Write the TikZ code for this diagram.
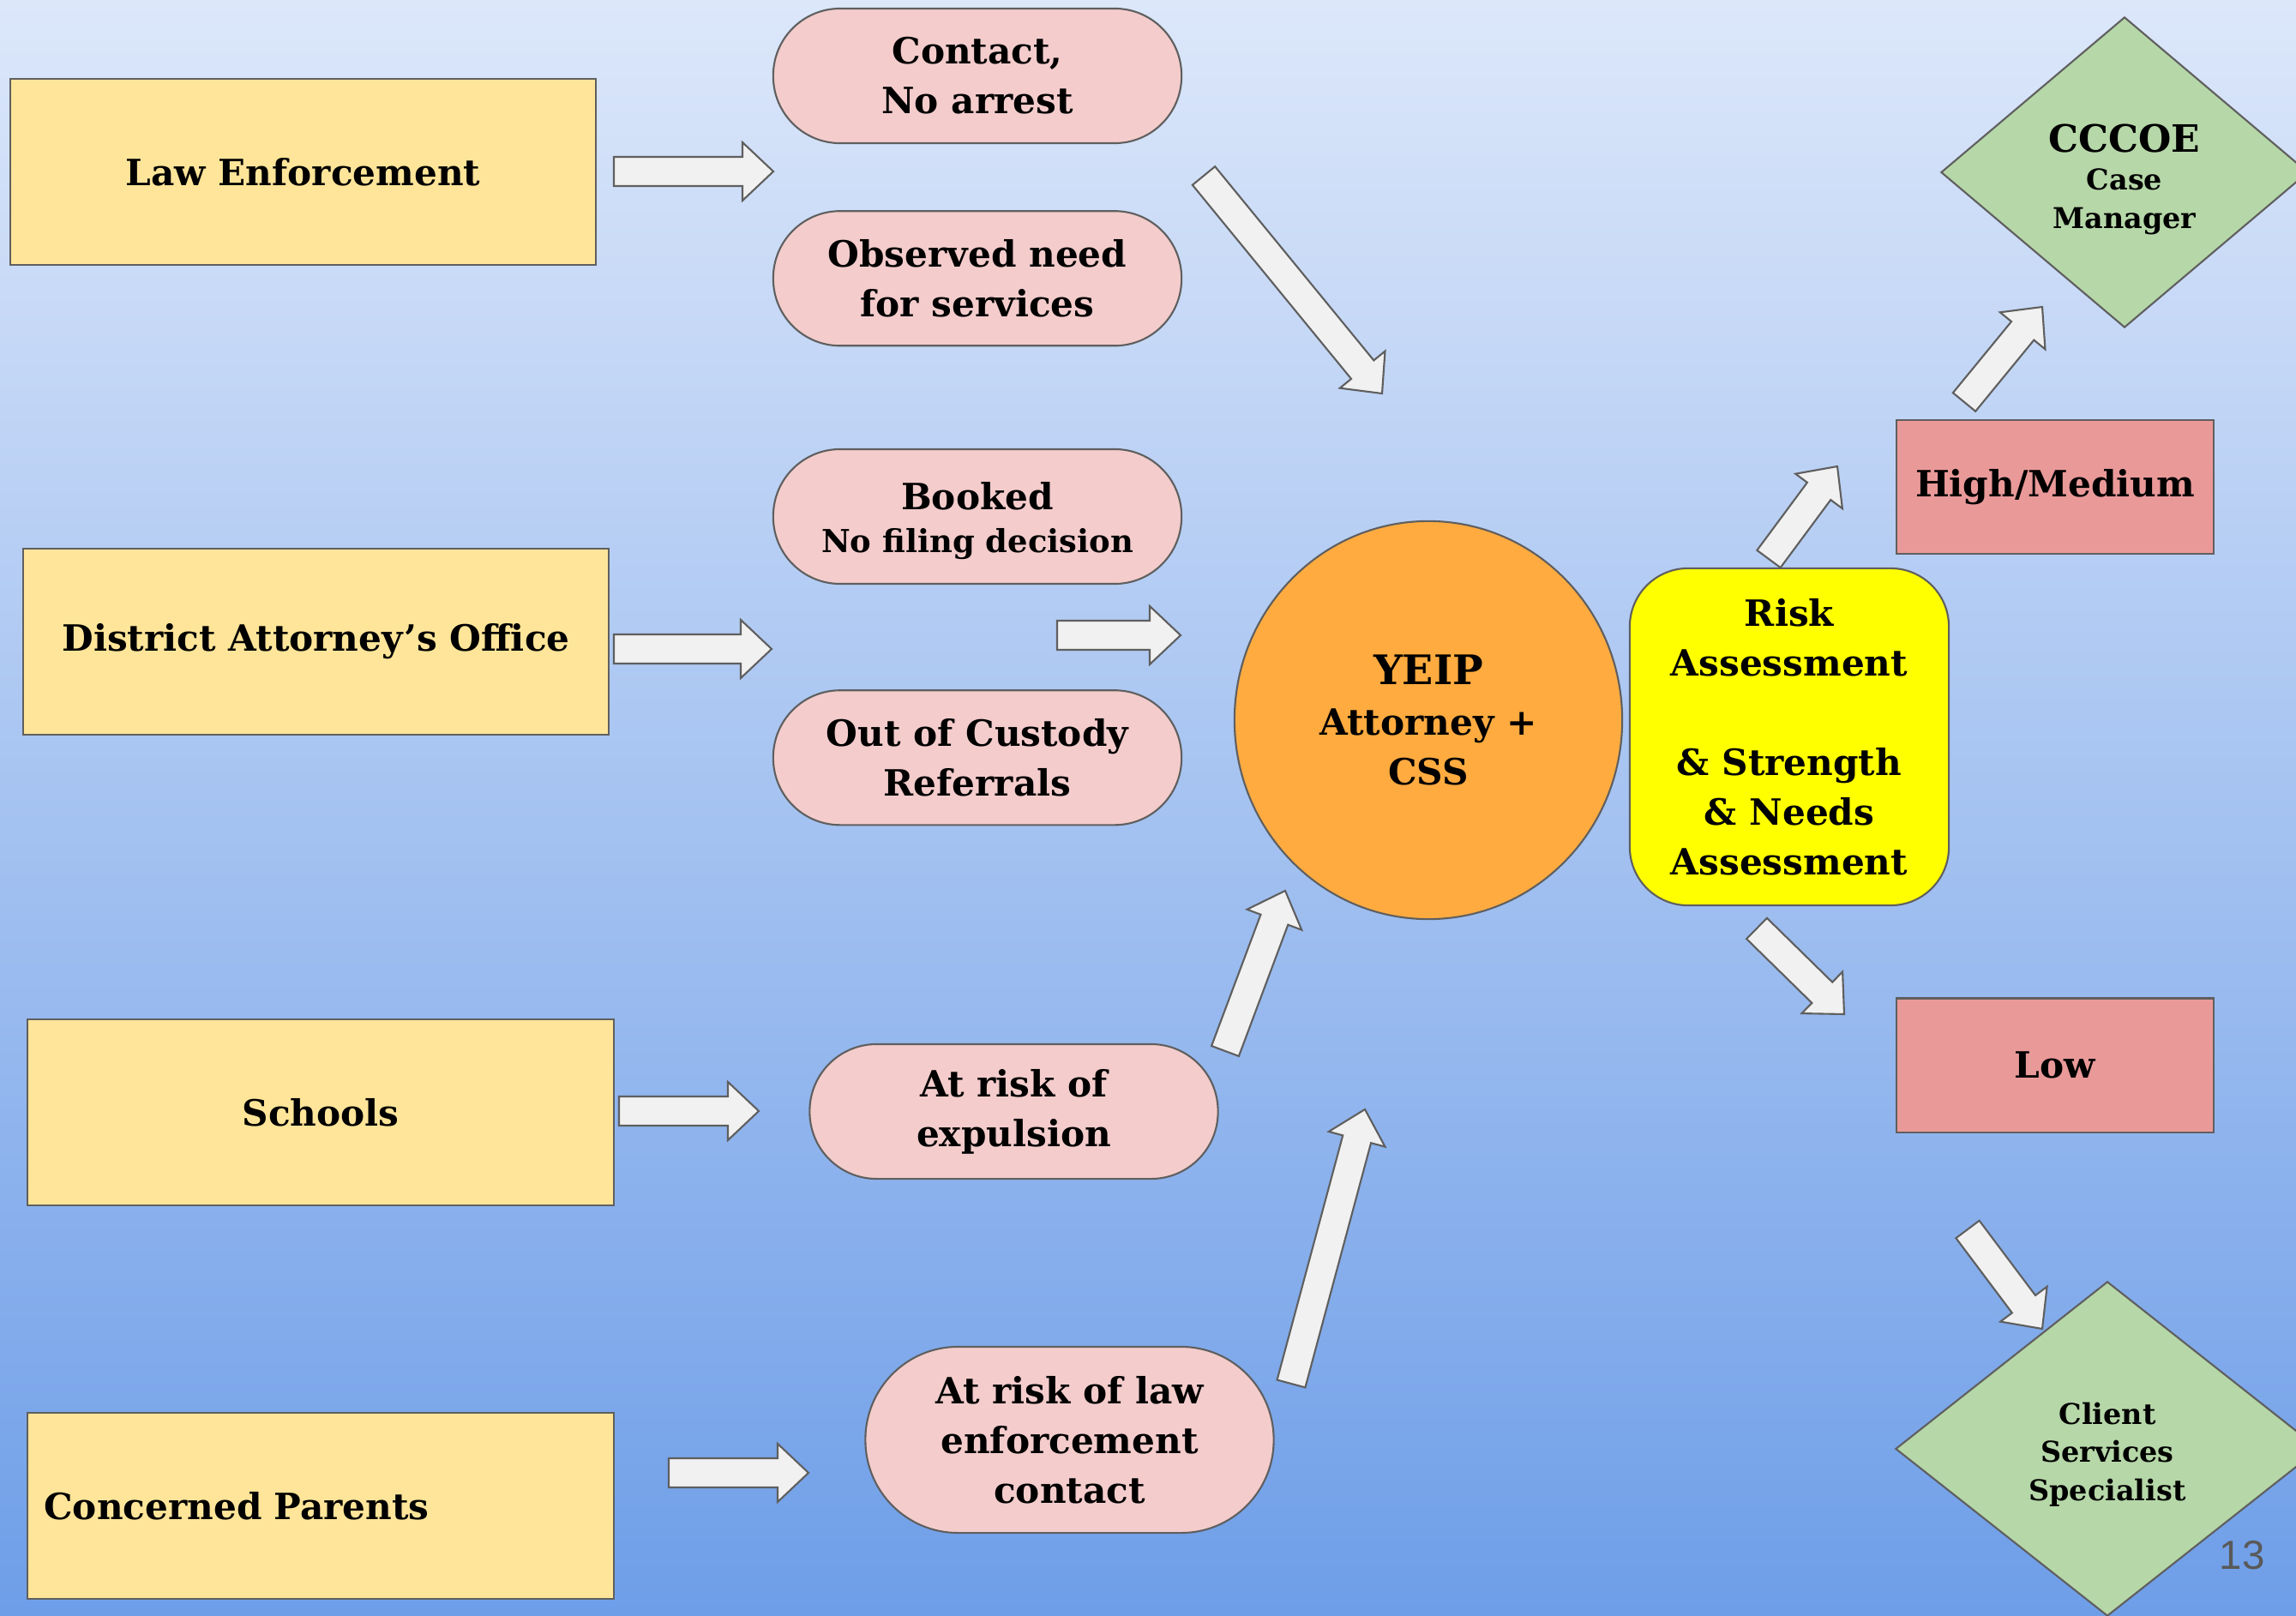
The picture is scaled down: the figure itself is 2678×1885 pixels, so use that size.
\documentclass[tikz,border=0pt]{standalone}
\usepackage{fontspec}
\setmainfont{DejaVu Serif}
\setsansfont{Liberation Sans}
\usetikzlibrary{positioning,calc,shapes.geometric}
\definecolor{bgtop}{HTML}{DCE7FA}
\definecolor{bgbot}{HTML}{6E9EE8}
\definecolor{edgegray}{HTML}{5F5F5F}
\definecolor{srcyellow}{HTML}{FFE599}
\definecolor{pinkfill}{HTML}{F4CCCC}
\definecolor{orangefill}{HTML}{FFAB40}
\definecolor{riskyellow}{HTML}{FFFF00}
\definecolor{levelred}{HTML}{EA9999}
\definecolor{greenfill}{HTML}{B6D7A8}
\definecolor{arrowfill}{HTML}{F1F1F1}
\definecolor{pagegray}{HTML}{595959}
\tikzstyle{srcbox}=[rectangle, draw=edgegray, fill=srcyellow, line width=0.6pt, minimum width=6.83cm, minimum height=2.17cm, inner sep=2pt, font=\bfseries\fontsize{12}{16.5}\selectfont, align=center]
\tikzstyle{pbox}=[rectangle, rounded corners=0.78cm, draw=edgegray, fill=pinkfill, line width=0.6pt, minimum width=4.76cm, minimum height=1.57cm, inner sep=2pt, font=\bfseries\fontsize{12}{16.5}\selectfont, align=center]
\tikzstyle{lvlbox}=[rectangle, draw=edgegray, fill=levelred, line width=0.6pt, minimum width=3.70cm, minimum height=1.56cm, font=\bfseries\fontsize{12}{16.5}\selectfont]
\tikzstyle{dbox}=[diamond, draw=edgegray, fill=greenfill, line width=0.6pt, inner sep=0pt, align=center, font=\bfseries\fontsize{9.5}{12.6}\selectfont]
\tikzstyle{blockarr}=[draw=edgegray, fill=arrowfill, line width=0.6pt, line join=miter]
\newcommand{\shafthalf}{0.17cm}
\newcommand{\headhalf}{0.34cm}
\newcommand{\headlen}{0.36cm}
\newcommand{\fatarrow}[2]{%
 \coordinate (neck) at ($(#2)!\headlen!(#1)$);
 \draw[blockarr] ($(#1)!\shafthalf!90:(#2)$) -- ($(neck)!\shafthalf!90:(#2)$) -- ($(neck)!\headhalf!90:(#2)$) -- (#2) -- ($(neck)!\headhalf!-90:(#2)$) -- ($(neck)!\shafthalf!-90:(#2)$) -- ($(#1)!\shafthalf!-90:(#2)$) -- cycle;}

\begin{document}
\begin{tikzpicture}[x=0.01cm, y=-0.01cm]
\useasboundingbox (0,0) rectangle (2678,1885);
\clip (0,0) rectangle (2678,1885);
\shade[top color=bgtop, bottom color=bgbot] (0,0) rectangle (2678,1885);
\node (LAW) [srcbox] at (353.5,200.5) {Law Enforcement};
\node (DAO) [srcbox] at (368.5,748.5) {District Attorney’s Office};
\node (SCH) [srcbox] at (374,1297.5) {Schools};
\node (PAR) [srcbox, text width=6.45cm, inner xsep=0.19cm, align=left] at (374,1756.5) {Concerned Parents};
\node (CONTACT) [pbox] at (1140,88.5) {Contact,\\No arrest};
\node (OBSERVED) [pbox, below=0.77cm of CONTACT] {Observed need\\for services};
\node (BOOKED) [pbox] at (1140,602.5) {\rule{0pt}{12pt}Booked\\[-2pt]{\fontsize{10.5}{15.5}\selectfont No filing decision}};
\node (CUSTODY) [pbox, below=1.22cm of BOOKED] {Out of Custody\\Referrals};
\node (EXPEL) [pbox] at (1182.5,1296.5) {At risk of\\expulsion};
\node (LECONTACT) [pbox, minimum height=2.17cm, rounded corners=1.08cm] at (1247.5,1679.5) {At risk of law\\enforcement\\contact};
\node (YEIP) [ellipse, draw=edgegray, fill=orangefill, line width=0.6pt, minimum width=4.52cm, minimum height=4.64cm, align=center, font=\bfseries\fontsize{12}{16.5}\selectfont] at (1666,840) {{\fontsize{13.5}{16.5}\selectfont YEIP}\\Attorney +\\CSS};
\node (RISK) [rectangle, rounded corners=0.68cm, draw=edgegray, fill=riskyellow, line width=0.6pt, minimum width=3.72cm, minimum height=3.93cm, align=center, font=\bfseries\fontsize{12}{16.5}\selectfont] at (2087,859.5) {Risk\\Assessment\\[16.5pt]\& Strength\\\& Needs\\Assessment};
\node (HIGH) [lvlbox] at (2397,568) {High/Medium};
\node (LOW) [lvlbox] at (2397,1242.5) {Low};
\node (CCCOE) [dbox, minimum width=4.28cm, minimum height=3.62cm] at (2478,201) {\rule{0pt}{14pt}{\fontsize{12.5}{15}\selectfont CCCOE}\\Case\\Manager};
\node (CSS) [dbox, minimum width=4.94cm, minimum height=3.90cm] at (2458,1690) {\rule{0pt}{11pt}Client\\Services\\Specialist};
\node (PAGE) [font=\sffamily\fontsize{13.5}{16}\selectfont, text=pagegray] at (2615,1814) {13};
\coordinate (a1s) at (716,200);   \coordinate (a1e) at (902,200);
\coordinate (a2s) at (716,757);   \coordinate (a2e) at (900,757);
\coordinate (a3s) at (1233,741);  \coordinate (a3e) at (1377,741);
\coordinate (a4s) at (722,1296);  \coordinate (a4e) at (885,1296);
\coordinate (a5s) at (780,1718);  \coordinate (a5e) at (943,1718);
\coordinate (a6s) at (1404,205);  \coordinate (a6e) at (1612,459);
\coordinate (a7s) at (1429,1226); \coordinate (a7e) at (1499,1039);
\coordinate (a8s) at (1506,1614); \coordinate (a8e) at (1592,1294);
\coordinate (a9s) at (2063,652);  \coordinate (a9e) at (2143,544);
\coordinate (a10s) at (2291,469); \coordinate (a10e) at (2382,358);
\coordinate (a11s) at (2049,1083); \coordinate (a11e) at (2151,1183);
\coordinate (a12s) at (2295,1434); \coordinate (a12e) at (2382,1550);
 \fatarrow{a1s}{a1e}
 \fatarrow{a2s}{a2e}
 \fatarrow{a3s}{a3e}
 \fatarrow{a4s}{a4e}
 \fatarrow{a5s}{a5e}
 \fatarrow{a6s}{a6e}
 \fatarrow{a7s}{a7e}
 \fatarrow{a8s}{a8e}
 \fatarrow{a9s}{a9e}
 \fatarrow{a10s}{a10e}
 \fatarrow{a11s}{a11e}
 \fatarrow{a12s}{a12e}
\end{tikzpicture}
\end{document}
